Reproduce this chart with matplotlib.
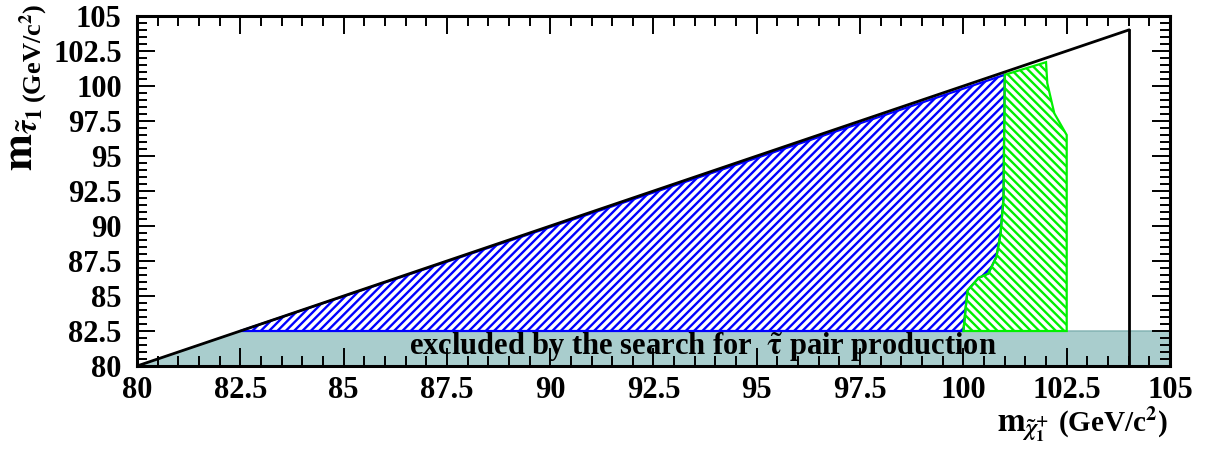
import matplotlib
matplotlib.use("Agg")
import matplotlib.pyplot as plt
from matplotlib.patches import Polygon
from matplotlib.ticker import MultipleLocator

# kinematic limit (diagonal) and chargino limit
diag_x = [80, 104]
diag_y = [80, 104]
vert_x = [104, 104]
vert_y = [80, 104]

# excluded by stau pair search (band)
band_x = [80, 82.5, 105, 105]
band_y = [80, 82.5, 82.5, 80]

# blue hatched region
blue_x = [82.5, 101.0, 101.0, 100.97, 100.9, 100.8, 100.6, 100.37, 100.1, 100.05, 100.0]
blue_y = [82.5, 100.8, 100.7, 92.0, 89.5, 87.8, 86.6, 86.3, 85.4, 84.0, 82.5]

# green hatched region
green_x = [100.0, 100.05, 100.1, 100.37, 100.6, 100.8, 100.9, 100.97, 101.0, 101.0,
           102.0, 102.03, 102.2, 102.5, 102.5]
green_y = [82.5, 84.0, 85.4, 86.3, 86.6, 87.8, 89.5, 92.0, 100.7, 100.8,
           101.7, 100.2, 98.05, 96.5, 82.5]

ticks = [80, 82.5, 85, 87.5, 90, 92.5, 95, 97.5, 100, 102.5, 105]
tick_labels = ['80', '82.5', '85', '87.5', '90', '92.5', '95', '97.5', '100', '102.5', '105']

plt.rcParams['font.family'] = ['Liberation Serif', 'DejaVu Serif']
plt.rcParams['font.weight'] = 'bold'
plt.rcParams['mathtext.fontset'] = 'stix'
plt.rcParams['hatch.linewidth'] = 1.7

fig = plt.figure(figsize=(12.14, 4.51), dpi=100)
ax = fig.add_axes([137/1214, 1-366/451, (1170-137)/1214, (366-16)/451])

ax.add_patch(Polygon(list(zip(band_x, band_y)), closed=True, facecolor='#a9cdcd',
                     edgecolor='#7fb0b0', lw=1, zorder=1))
ax.add_patch(Polygon(list(zip(blue_x, blue_y)), closed=True, fill=False,
                     edgecolor='#0000ff', hatch='////', lw=1.6, zorder=2))
ax.add_patch(Polygon(list(zip(green_x, green_y)), closed=True, fill=False,
                     edgecolor='#00f000', hatch='\\\\\\\\', lw=1.6, zorder=2))

ax.plot(diag_x, diag_y, color='black', lw=2, zorder=3)
ax.plot(vert_x, vert_y, color='black', lw=2, zorder=3)

ax.text(93.7, 80.8, r'excluded by the search for  $\mathbf{\tilde{\tau}}$ pair production',
        ha='center', va='baseline', fontsize=22, fontweight='bold', zorder=5)

ax.set_xlim(80, 105)
ax.set_ylim(80, 105)
ax.set_xticks(ticks)
ax.set_xticklabels(tick_labels)
ax.set_yticks(ticks)
ax.set_yticklabels(tick_labels)
ax.xaxis.set_minor_locator(MultipleLocator(0.5))
ax.yaxis.set_minor_locator(MultipleLocator(0.5))
ax.tick_params(which='both', direction='in', top=True, right=True, width=1.4, zorder=6)
ax.tick_params(which='major', length=13, labelsize=22)
ax.tick_params(axis='x', which='major', pad=7)
ax.tick_params(axis='y', which='major', pad=11)
ax.tick_params(which='minor', length=7)
ax.set_axisbelow(False)
for s in ax.spines.values():
    s.set_linewidth(2.2)
    s.set_zorder(6)

# y label (ROOT style, at the top)
fig.text(33/1214, 1-171/451, r'$\mathbf{m}_{\tilde{\tau}_{1}}$', rotation=90,
         rotation_mode='anchor', ha='left', va='baseline', fontsize=32)
fig.text(41/1214, 1-3/451, r'(GeV/c$^{\mathbf{2}}$)', rotation=90,
         rotation_mode='anchor', ha='right', va='baseline', fontsize=19, fontweight='bold')

# x label
fig.text(1048/1214, 1-431/451, r'$\mathbf{m}_{\tilde{\chi}^{+}_{1}}$',
         ha='right', va='baseline', fontsize=24)
fig.text(1168/1214, 1-431/451, r'(GeV/c$^{\mathbf{2}}$)',
         ha='right', va='baseline', fontsize=21, fontweight='bold')

fig.savefig('out.png', dpi=100)
